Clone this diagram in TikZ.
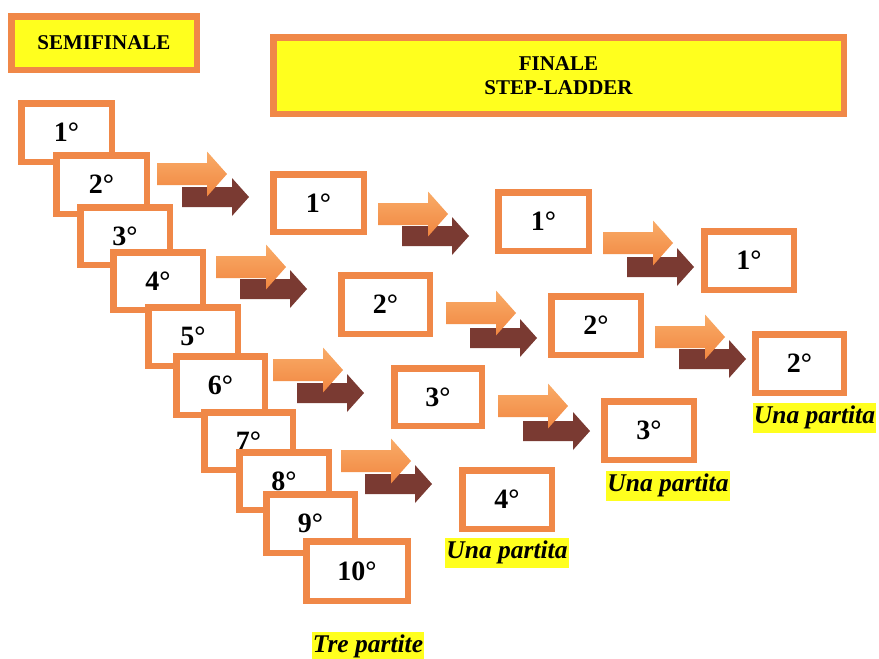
\documentclass[tikz,border=0pt]{standalone}
\usepackage{fontspec}
\setmainfont{Liberation Serif}
\definecolor{bord}{RGB}{240,136,72}
\definecolor{arrOt}{RGB}{249,172,104}
\definecolor{arrOb}{RGB}{241,134,64}
\definecolor{arrB}{RGB}{122,58,50}
\definecolor{ylw}{RGB}{255,255,30}
\tikzset{
  nbox/.style={draw=bord, line width=6.5pt, fill=white, inner sep=0pt,
    font=\fontsize{28}{28}\selectfont\bfseries},
  hbox/.style={draw=bord, line width=6.5pt, fill=ylw, inner sep=0pt, align=center,
    font=\fontsize{21}{24}\selectfont\bfseries},
  lab/.style={fill=ylw, inner xsep=1pt, inner ysep=3.5pt, text height=17pt, text depth=6pt,
    font=\fontsize{25.5}{26}\selectfont\bfseries\itshape},
}
% name, x1, y1, x2, y2, text
\newcommand\pbox[6]{\node[nbox, minimum width={#4-#2-6.5}, minimum height={#5-#3-6.5}] (#1) at ({(#2+#4)/2},{-(#3+#5)/2}) {#6};}
\newcommand\hdbox[6]{\node[hbox, minimum width={#4-#2-6.5}, minimum height={#5-#3-6.5}] (#1) at ({(#2+#4)/2},{-(#3+#5)/2}) {#6};}
% orange x, y ; brown x, y
\newcommand\apair[4]{%
  \fill[arrB, shift={(#3,-#4)}] (0,10) -- (50,10) -- (50,19) -- (67,0) -- (50,-19) -- (50,-10) -- (0,-10) -- cycle;
  \shade[top color=arrOt, bottom color=arrOb, shift={(#1,-#2)}] (0,11) -- (50,11) -- (50,22.5) -- (70,0) -- (50,-22.5) -- (50,-11) -- (0,-11) -- cycle;
}
\begin{document}
\begin{tikzpicture}[x=1pt, y=1pt]
\useasboundingbox (0,0) rectangle (879,-659);
\fill[white] (0,0) rectangle (879,-659);

% headers
\hdbox{semi}{8}{13}{200}{73}{SEMIFINALE}
\hdbox{fin}{270}{34}{847}{117}{FINALE\\STEP-LADDER}

% semifinal ladder
\pbox{s1}{18}{100}{115}{165}{1°}
\pbox{s2}{53}{152}{150}{217}{2°}
\pbox{s3}{77}{204}{173}{268}{3°}
\pbox{s4}{110}{249}{206}{313}{4°}
\pbox{s5}{145}{304}{241}{369}{5°}
\pbox{s6}{173}{353}{268}{418}{6°}
\pbox{s7}{201}{409}{296}{473}{7°}
\pbox{s8}{236}{449}{332}{513}{8°}
\pbox{s9}{263}{491}{358}{556}{9°}
\pbox{s10}{303}{538}{411}{604}{10°}

% final round 1
\pbox{a1}{270}{171}{367}{235}{1°}
\pbox{a2}{338}{272}{433}{337}{2°}
\pbox{a3}{391}{365}{485}{429}{3°}
\pbox{a4}{459}{467}{555}{532}{4°}

% final round 2
\pbox{b1}{495}{189}{592}{254}{1°}
\pbox{b2}{548}{293}{644}{358}{2°}
\pbox{b3}{601}{398}{697}{463}{3°}

% final round 3
\pbox{c1}{701}{228}{797}{293}{1°}
\pbox{c2}{752}{331}{847}{396}{2°}

% arrows
\apair{157}{174}{182}{197}
\apair{216}{267}{240}{289}
\apair{273}{370}{297}{393}
\apair{341}{461}{365}{484}
\apair{378}{214}{402}{236}
\apair{446}{313}{470}{338}
\apair{498}{406}{523}{431}
\apair{603}{243}{627}{267}
\apair{655}{337}{679}{359}

% labels
\node[lab] (l1) at (507,-553) {Una partita};
\node[lab] (l2) at (668,-486) {Una partita};
\node[lab] (l3) at (814.5,-417.5) {Una partita};
\node[lab] (l4) at (368,-647) {Tre partite};
\end{tikzpicture}
\end{document}
